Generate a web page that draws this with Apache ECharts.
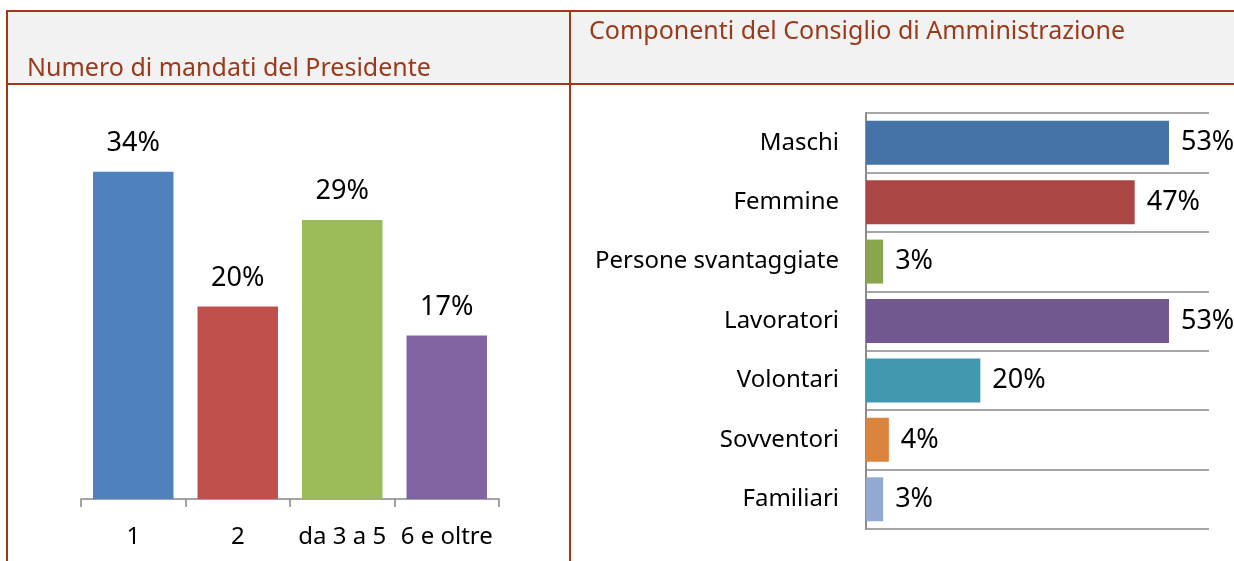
<!DOCTYPE html>
<html>
<head>
<meta charset="utf-8">
<script src="https://cdn.jsdelivr.net/npm/echarts@6/dist/echarts.min.js"></script>
<style>
	html, body { margin: 0; padding: 0; background: #fff; }
	#main { width: 1234px; height: 561px; }
</style>
</head>
<body>
<div id="main"></div>
<script>
// Numero di mandati del Presidente
var mandatiCategorie = ['1', '2', 'da 3 a 5', '6 e oltre'];
var mandatiValori = [34, 20, 29, 17];
var mandatiColori = ['#4f81bd', '#c0504d', '#9bbb59', '#8064a2'];

// Componenti del Consiglio di Amministrazione
var consiglioCategorie = ['Maschi', 'Femmine', 'Persone svantaggiate', 'Lavoratori', 'Volontari', 'Sovventori', 'Familiari'];
var consiglioValori = [53, 47, 3, 53, 20, 4, 3];
var consiglioColori = ['#4572a7', '#aa4643', '#89a54e', '#71588f', '#4198af', '#db843d', '#93a9cf'];

var bordo = '#a0391a';
var font = 'Noto Sans';

var chart = echarts.init(document.getElementById('main'));

var option = {
	animation: false,
	textStyle: { fontFamily: font },
	graphic: [
		{ type: 'rect', shape: { x: 7, y: 11, width: 1240, height: 73 }, style: { fill: '#f2f2f2' }, z: -10 },
		{ type: 'line', shape: { x1: 7, y1: 11, x2: 1240, y2: 11 }, style: { stroke: bordo, lineWidth: 2 } },
		{ type: 'line', shape: { x1: 7, y1: 84, x2: 1240, y2: 84 }, style: { stroke: bordo, lineWidth: 2 } },
		{ type: 'line', shape: { x1: 7, y1: 10, x2: 7, y2: 570 }, style: { stroke: bordo, lineWidth: 2 } },
		{ type: 'line', shape: { x1: 570, y1: 10, x2: 570, y2: 570 }, style: { stroke: bordo, lineWidth: 2 } }
	],
	title: [
		{
			text: 'Numero di mandati del Presidente',
			left: 22, top: 51,
			textStyle: { color: '#9b3a1b', fontSize: 25, fontWeight: 'normal', fontFamily: font }
		},
		{
			text: 'Componenti del Consiglio di Amministrazione',
			left: 584, top: 14,
			textStyle: { color: '#9b3a1b', fontSize: 25, fontWeight: 'normal', fontFamily: font }
		}
	],
	grid: [
		{ left: 81, right: 735, top: 114, bottom: 62 },
		{ left: 866, right: 25, top: 113, bottom: 32 }
	],
	xAxis: [
		{
			type: 'category',
			gridIndex: 0,
			data: mandatiCategorie,
			axisLine: { show: true, lineStyle: { color: '#868686', width: 1.5 } },
			axisTick: { show: true, interval: 0, length: 8, lineStyle: { color: '#868686', width: 1.5 } },
			axisLabel: { interval: 0, color: '#000', fontSize: 24, margin: 26, fontFamily: font }
		},
		{
			type: 'value',
			gridIndex: 1,
			min: 0, max: 60,
			show: false
		}
	],
	yAxis: [
		{
			type: 'value',
			gridIndex: 0,
			min: 0, max: 40,
			show: false
		},
		{
			type: 'category',
			gridIndex: 1,
			inverse: true,
			data: consiglioCategorie,
			axisLine: { show: true, lineStyle: { color: '#8c8c8c', width: 2 } },
			axisTick: { show: false },
			splitLine: { show: true, interval: 0, lineStyle: { color: '#a6a6a6', width: 2 } },
			axisLabel: { interval: 0, color: '#000', fontSize: 24, margin: 27, fontFamily: font }
		}
	],
	series: [
		{
			type: 'bar',
			xAxisIndex: 0, yAxisIndex: 0,
			barCategoryGap: '23%',
			data: mandatiValori.map(function (v, i) {
				return { value: v, itemStyle: { color: mandatiColori[i] } };
			}),
			label: {
				show: true, position: 'top', distance: 15,
				color: '#000', fontSize: 27, fontFamily: font,
				formatter: '{c}%'
			}
		},
		{
			type: 'bar',
			xAxisIndex: 1, yAxisIndex: 1,
			barCategoryGap: '26%',
			data: consiglioValori.map(function (v, i) {
				return { value: v, itemStyle: { color: consiglioColori[i] } };
			}),
			label: {
				show: true, position: 'right', distance: 12,
				color: '#000', fontSize: 27, fontFamily: font,
				formatter: '{c}%'
			}
		}
	]
};

chart.setOption(option);
</script>
</body>
</html>
